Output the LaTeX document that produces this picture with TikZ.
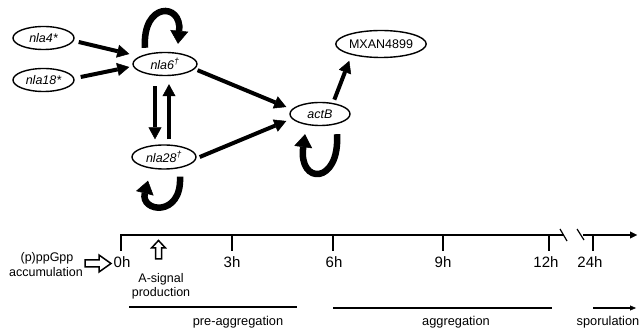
\documentclass[tikz,border=0pt]{standalone}
\usepackage{fontspec}
\setmainfont{Liberation Sans}
\usetikzlibrary{arrows.meta,shapes.geometric}
\begin{document}
\begin{tikzpicture}[x=1pt,y=-1pt,
  gene/.style={draw,ellipse,line width=1.4pt,inner sep=0pt,font=\fontsize{12.5}{12.5}\selectfont\itshape},
  arr/.style={line width=4pt,-{Triangle[length=12pt,width=13pt,line width=0.5pt]}},
  loopy/.style={line width=6.5pt,-{Triangle[length=13pt,width=18pt,line width=0.5pt]}},
  tline/.style={line width=2.2pt},
  tickln/.style={line width=2pt},
  hr/.style={anchor=base,font=\fontsize{15}{15}\selectfont},
  lab/.style={anchor=base,font=\fontsize{12.5}{13}\selectfont},
  phlab/.style={anchor=base,font=\fontsize{12.8}{13}\selectfont},
  phase/.style={line width=1.2pt},
  slash/.style={line width=1.2pt},
  hollowln/.style={draw,line width=1.5pt,line join=miter}
]
\useasboundingbox (0,0) rectangle (639,328);

% genes
\node[gene,minimum width=61pt,minimum height=23pt] (nla4) at (43.5,38) {nla4*};
\node[gene,minimum width=61pt,minimum height=23pt] (nla18) at (43.5,80) {nla18*};
\node[gene,minimum width=64pt,minimum height=23pt] (nla6) at (165,64) {nla6\textsuperscript{†}};
\node[gene,minimum width=64pt,minimum height=24pt] (nla28) at (164,157) {nla28\textsuperscript{†}};
\node[gene,minimum width=60pt,minimum height=23pt] (actB) at (320,114) {actB};
\node[gene,minimum width=79pt,minimum height=27pt,font=\fontsize{12.5}{12.5}\selectfont] (mxan) at (381,44) {MXAN4899};

% straight connectors
\draw[arr] ([xshift=4pt,yshift=-4pt]nla4.east) -- ([xshift=-3pt,yshift=10pt]nla6.west);
\draw[arr] ([xshift=6pt,yshift=3pt]nla18.east) -- ([xshift=-3pt,yshift=-3pt]nla6.west);
\draw[arr] ([xshift=-10pt,yshift=-10pt]nla6.south) -- ([xshift=-9pt,yshift=5pt]nla28.north);
\draw[arr] ([xshift=5pt,yshift=5pt]nla28.north) -- ([xshift=4pt,yshift=-8pt]nla6.south);
\draw[arr] ([xshift=3pt,yshift=-1pt]nla6.-10) -- ([xshift=-3pt,yshift=7pt]actB.west);
\draw[arr] ([xshift=3pt]nla28.east) -- ([xshift=-3pt,yshift=-7pt]actB.west);
\draw[arr] ([xshift=3pt,yshift=3pt]actB.45) -- ([xshift=-2pt,yshift=-6pt]mxan.200);

% self loops
\draw[loopy] ([xshift=-20pt,yshift=4pt]nla6.north) .. controls (142,2) and (182,2) .. ([xshift=13pt,yshift=8pt]nla6.north);
\draw[loopy] ([xshift=16pt,yshift=-7pt]nla28.south) .. controls (182,218) and (140,212) .. ([xshift=-16pt,yshift=-11pt]nla28.south);
\draw[loopy] ([xshift=17pt,yshift=-8pt]actB.south) .. controls (340,185) and (298,185) .. ([xshift=-15pt,yshift=-8pt]actB.south);

% timeline
\coordinate (t0) at (121,235);
\coordinate (brkA) at (564,235);
\coordinate (brkB) at (583,235);
\coordinate (tEnd) at (637,235);
\draw[tline] (121,251) -- (t0) -- (brkA);
\draw[tline,-{Triangle[length=7pt,width=7pt,line width=0.4pt]}] (brkB) -- (tEnd);
\foreach \x/\t in {232/3h,333/6h,443/9h,549/12h,593/24h}{
  \draw[tickln] (\x,235) -- (\x,251);
}
\foreach \x/\t in {122/0h,232/3h,334/6h,443/9h,546/12h,590/24h}{
  \node[hr] (lab\t) at (\x,268) {\t};
}
\draw[slash] (560,229) -- (567,241);
\draw[slash] (577,229) -- (584,240);

% (p)ppGpp
\node[lab] (ppg1) at (47,262) {(p)ppGpp};
\node[lab] (ppg2) at (46,276.5) {accumulation};
\draw[hollowln] (85,260) -- (99,260) -- (99,255) -- (111,263.5) -- (99,272) -- (99,267) -- (85,267) -- cycle;

% A-signal
\draw[hollowln] (155.5,259) -- (155.5,248) -- (151.5,248) -- (158.5,240.5) -- (165.5,248) -- (161.5,248) -- (161.5,259) -- cycle;
\node[lab] (asig1) at (161,283) {A-signal};
\node[lab] (asig2) at (161,296) {production};

% phases
\draw[phase] (129,307) -- (297,307);
\draw[phase] (333,308) -- (552,308);
\draw[phase,-{Triangle[length=6pt,width=5pt,line width=0.4pt]}] (593,308) -- (636,308);
\node[phlab] (pre) at (238,325.5) {pre-aggregation};
\node[phlab] (agg) at (456,325.5) {aggregation};
\node[phlab] (spo) at (608,325.5) {sporulation};
\end{tikzpicture}
\end{document}
